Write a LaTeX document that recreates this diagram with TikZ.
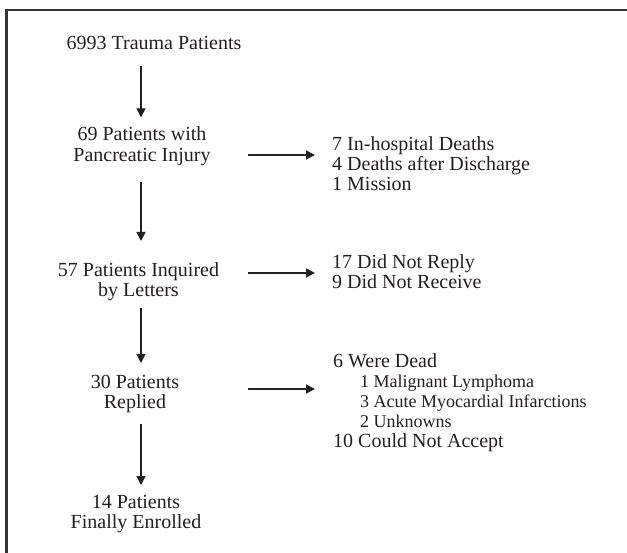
\documentclass[tikz,border=0pt]{standalone}
\usepackage{fontspec}
\setmainfont{Liberation Serif}
\usepackage{tikz}
\usetikzlibrary{arrows.meta}
\definecolor{Ink}{HTML}{231F20}
\definecolor{Frame}{HTML}{333333}
\newcommand{\subline}[1]{\hspace*{27pt}{\fontsize{18}{20}\selectfont #1}}
\tikzset{stage/.style={inner sep=0pt,align=center,text=Ink,font=\fontsize{20}{20}\selectfont},note/.style={inner sep=0pt,align=left,anchor=north west,text=Ink,font=\fontsize{20}{20}\selectfont},flow/.style={-{Triangle[length=9pt,width=9pt]},line width=1.4pt,draw=Ink}}

\begin{document}
\begin{tikzpicture}[x=1pt,y=-1pt]
      \useasboundingbox(0,0)rectangle(627,553);
      \draw[Frame,line width=2.5pt](6.5,553)--(6.5,10)--(627,10);
      \coordinate(col)at(141,0);
      \node[stage,anchor=base](trauma)at(154,50){6993 Trauma Patients};
      \node[stage,anchor=north](pancreas)at(142,126.3){69 Patients with\\[1.5pt]Pancreatic Injury};
      \node[stage,anchor=north](inquired)at(138.5,262.3){57 Patients Inquired\\by Letters};
      \node[stage,anchor=north](replied)at(135,374.5){30 Patients\\Replied};
      \node[stage,anchor=north](enrolled)at(136,495.5){14 Patients\\Finally Enrolled};
      \node[note](deaths)at(332,136.3){7 In-hospital Deaths\\4 Deaths after Discharge\\1 Mission};
      \node[note](noreply)at(332,254.3){17 Did Not Reply\\9 Did Not Receive};
      \node[note](dead)at(333,353){6 Were Dead\\\subline{1 Malignant Lymphoma}\\\subline{3 Acute Myocardial Infarctions}\\\subline{2 Unknowns}\\10 Could Not Accept};
      \draw[flow,shorten <=16pt,shorten >=9pt](trauma.base-|col)--(pancreas.north-|col);
      \draw[flow,shorten <=15.7pt,shorten >=21.3pt](pancreas.south-|col)--(inquired.north-|col);
      \draw[flow,shorten <=6.7pt,shorten >=11.5pt](inquired.south-|col)--(replied.north-|col);
      \draw[flow,shorten <=11.7pt,shorten >=10.5pt](replied.south-|col)--(enrolled.north-|col);
      \draw[flow]([xshift=-84pt,yshift=-18.7pt]deaths.north west)--([xshift=-17pt,yshift=-18.7pt]deaths.north west);
      \draw[flow]([xshift=-84pt,yshift=-18.7pt]noreply.north west)--([xshift=-17pt,yshift=-18.7pt]noreply.north west);
      \draw[flow]([xshift=-85pt,yshift=-36pt]dead.north west)--([xshift=-18pt,yshift=-36pt]dead.north west);
    \end{tikzpicture}
\end{document}
